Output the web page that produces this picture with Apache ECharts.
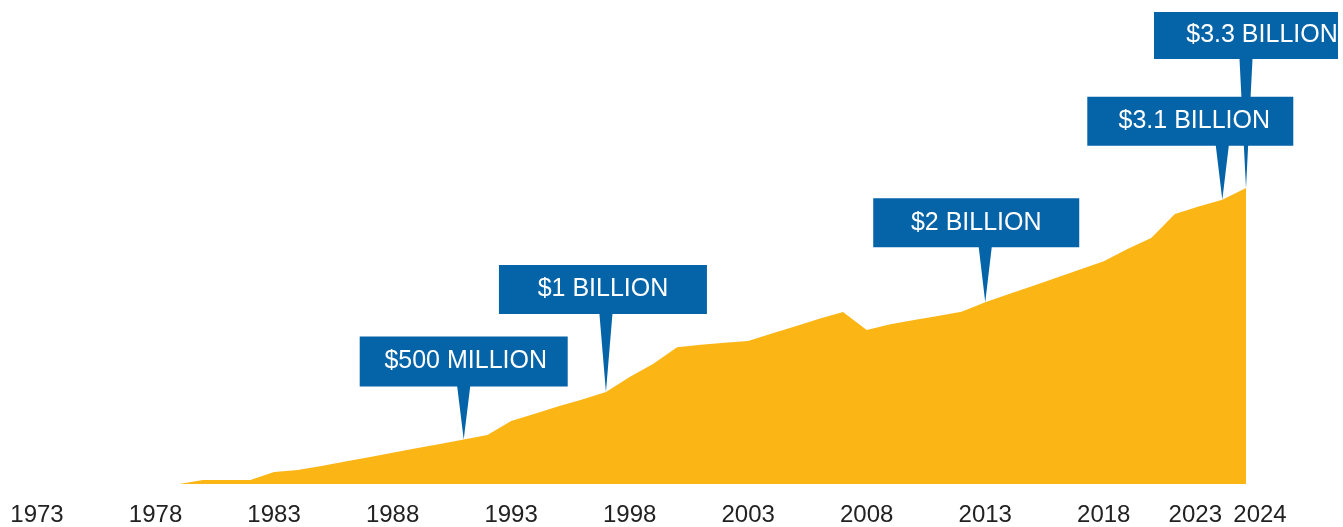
<!DOCTYPE html>
<html>
<head>
<meta charset="utf-8">
<script src="https://cdn.jsdelivr.net/npm/echarts@6/dist/echarts.min.js"></script>
<style>
html,body{margin:0;padding:0;background:#fff;}
#chart{width:1343px;height:527px;}
</style>
</head>
<body>
<div id="chart"></div>
<script>
// ---- data ----
const years = [1979,1980,1981,1982,1983,1984,1985,1986,1987,1988,1989,1990,1991,1992,1993,1994,1995,1996,1997,1998,1999,2000,2001,2002,2003,2004,2005,2006,2007,2008,2009,2010,2011,2012,2013,2014,2015,2016,2017,2018,2019,2020,2021,2022,2023,2024];
// values in $ millions
const values = [0,44,44,44,133,155,199,249,296,345,394,442,492,541,696,777,858,935,1017,1182,1330,1510,1540,1560,1580,1664,1743,1826,1900,1702,1764,1811,1856,1904,2008,2100,2188,2280,2369,2461,2597,2718,2983,3065,3140,3270];
const tickYears = [1973,1978,1983,1988,1993,1998,2003,2008,2013,2018,2023,2024];
const calloutYears = [1991,1997,2013,2024,2023];
const calloutTexts = ['$500 MILLION','$1 BILLION','$2 BILLION','$3.3 BILLION','$3.1 BILLION'];

// ---- styles ----
const AREA = '#FBB615';
const BLUE = '#0563A8';
const FONT = '"Liberation Sans", Arial, sans-serif';
// box width, box height, tail length, tail x from box-left, text dx
const calloutStyle = {
  1991: {w:208, h:50, t:53, tx:104, dx:2},
  1997: {w:208, h:49, t:78, tx:107, dx:0},
  2013: {w:206, h:49, t:55, tx:112, dx:0},
  2023: {w:206, h:49, t:54, tx:135, dx:4},
  2024: {w:184, h:47, t:129, tx:92, dx:16}
};

function calloutPath(s){
  const tw = 13;
  return 'path://M0 0 L' + s.w + ' 0 L' + s.w + ' ' + s.h +
    ' L' + (s.tx + tw/2) + ' ' + s.h + ' L' + s.tx + ' ' + (s.h + s.t) +
    ' L' + (s.tx - tw/2) + ' ' + s.h + ' L0 ' + s.h + ' Z';
}

const seriesData = years.map((y, i) => [y, values[i]]);

const markData = calloutYears.map((yr, i) => {
  const s = calloutStyle[yr];
  const v = values[years.indexOf(yr)];
  return {
    coord: [yr, v],
    symbol: calloutPath(s),
    symbolSize: [s.w, s.h + s.t],
    symbolOffset: [s.w/2 - s.tx, -(s.h + s.t)/2],
    itemStyle: {color: BLUE},
    label: {
      show: true,
      position: 'inside',
      formatter: calloutTexts[i],
      color: '#fff',
      fontSize: 25,
      fontFamily: FONT,
      offset: [s.dx, -s.t/2]
    }
  };
});

const chart = echarts.init(document.getElementById('chart'), null, {renderer: 'canvas'});
chart.setOption({
  animation: false,
  grid: {left: 37, right: 97, top: 122, bottom: 43},
  xAxis: {
    type: 'value',
    min: 1973,
    max: 2024,
    axisLine: {show: false},
    axisTick: {show: false},
    splitLine: {show: false},
    axisLabel: {
      customValues: tickYears,
      margin: 19,
      fontSize: 24,
      fontFamily: FONT,
      color: '#222',
      formatter: function (v) {
        if (v === 2023) return '{l|2023}';
        if (v === 2024) return '{r|2024}';
        return String(v);
      },
      rich: {
        l: {padding: [0, 54, 0, 0], fontSize: 24, fontFamily: FONT, color: '#222'},
        r: {padding: [0, 0, 0, 28], fontSize: 24, fontFamily: FONT, color: '#222'}
      }
    }
  },
  yAxis: {type: 'value', min: 0, max: 4000, show: false},
  series: [{
    type: 'line',
    data: seriesData,
    symbol: 'none',
    smooth: false,
    lineStyle: {width: 0, color: AREA},
    itemStyle: {color: AREA},
    areaStyle: {color: AREA, opacity: 1},
    silent: true,
    markPoint: {
      silent: true,
      data: markData
    }
  }]
});
</script>
</body>
</html>
